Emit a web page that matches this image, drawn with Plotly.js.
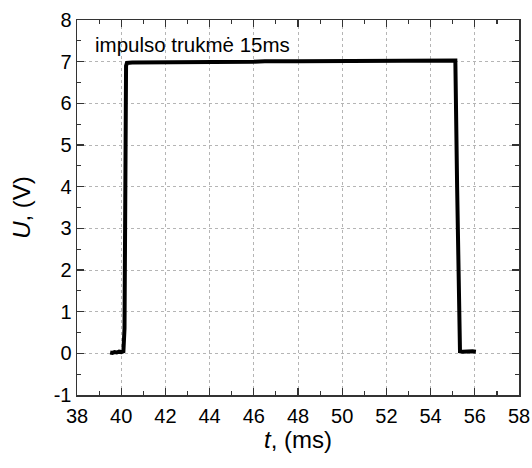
<!DOCTYPE html>
<html>
<head>
<meta charset="utf-8">
<script src="https://cdn.plot.ly/plotly-3.0.1.min.js"></script>
<style>html,body{margin:0;padding:0;background:#fff;}#chart{width:532px;height:468px;}</style>
</head>
<body>
<div id="chart"></div>
<script>
// Pulse trace: time (ms) and voltage (V)
const timeMs = [39.50, 39.60, 39.70, 39.80, 39.90, 40.00, 40.10, 40.15, 40.22, 40.26,
  40.50, 41.00, 41.50, 42.00, 42.50, 43.00, 43.50, 44.00, 44.50, 45.00,
  45.50, 46.00, 46.50, 47.00, 47.50, 48.00, 48.50, 49.00, 49.50, 50.00,
  50.50, 51.00, 51.50, 52.00, 52.50, 53.00, 53.50, 54.00, 54.50, 55.00,
  55.12, 55.20, 55.28, 55.33, 55.45, 55.60, 55.75, 55.90, 56.05];
const voltage = [0.02, 0.01, 0.03, 0.02, 0.04, 0.03, 0.05, 0.6, 6.9, 6.97,
  6.98, 6.98, 6.99, 6.99, 6.99, 7.00, 6.99, 7.00, 7.00, 7.00,
  7.00, 7.00, 7.01, 7.00, 7.01, 7.01, 7.01, 7.01, 7.01, 7.01,
  7.02, 7.02, 7.02, 7.02, 7.02, 7.02, 7.03, 7.02, 7.03, 7.03,
  7.03, 4.0, 0.3, 0.05, 0.04, 0.05, 0.04, 0.05, 0.04];

const xTicks = [38, 40, 42, 44, 46, 48, 50, 52, 54, 56, 58];
const yTicks = [-1, 0, 1, 2, 3, 4, 5, 6, 7, 8];
const noteText = 'impulso trukmė 15ms';

const fontFam = 'Liberation Sans, Arial, sans-serif';

const trace = {
  x: timeMs, y: voltage, type: 'scatter', mode: 'lines',
  line: {color: '#000', width: 4}, hoverinfo: 'skip'
};

const axisCommon = {
  showline: true, linecolor: '#333', linewidth: 1.5, mirror: 'ticks',
  ticks: 'inside', ticklen: 7, tickwidth: 1.2, tickcolor: '#333',
  showgrid: true, gridcolor: '#b5b5b5', griddash: 'dot', gridwidth: 1,
  zeroline: false, tickfont: {family: fontFam, size: 20, color: '#000'},
  minor: {ticks: 'inside', ticklen: 4, tickwidth: 1.2, tickcolor: '#333', showgrid: false}
};

const layout = {
  width: 532, height: 468,
  margin: {l: 77, r: 13, t: 20, b: 73},
  paper_bgcolor: '#fff', plot_bgcolor: '#fff',
  showlegend: false,
  xaxis: Object.assign({}, axisCommon, {
    range: [38, 58], tickmode: 'array', tickvals: xTicks, ticktext: xTicks.map(String),
    ticklabelstandoff: 2,
    minor: Object.assign({}, axisCommon.minor, {dtick: 1, tick0: 38}),
    title: {text: '<i>t</i>, (ms)', font: {family: fontFam, size: 24, color: '#000'}, standoff: 4}
  }),
  yaxis: Object.assign({}, axisCommon, {
    range: [-1, 8], tickmode: 'array', tickvals: yTicks, ticktext: yTicks.map(String),
    minor: Object.assign({}, axisCommon.minor, {dtick: 0.5, tick0: -1}),
    title: {text: '<i>U</i>, (V)', font: {family: fontFam, size: 24, color: '#000'}, standoff: 16}
  }),
  annotations: [{
    text: noteText, xref: 'x', yref: 'y', x: 38.72, y: 7.42, xanchor: 'left', yanchor: 'middle',
    showarrow: false, font: {family: fontFam, size: 20.5, color: '#000'}
  }]
};

Plotly.newPlot('chart', [trace], layout, {staticPlot: true, displayModeBar: false});
</script>
</body>
</html>
